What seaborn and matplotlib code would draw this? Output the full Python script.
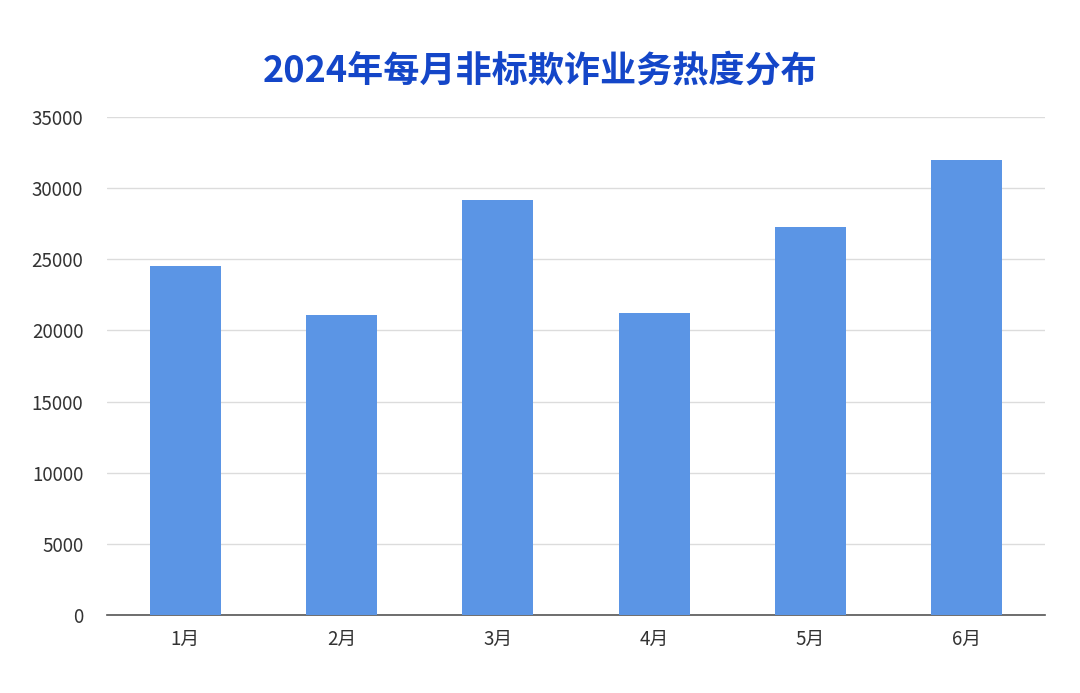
import matplotlib
matplotlib.use("Agg")
import matplotlib.pyplot as plt
import seaborn as sns
import pandas as pd

months = ["1月", "2月", "3月", "4月", "5月", "6月"]
values = [24500, 21100, 29150, 21200, 27300, 31950]
yticks = [0, 5000, 10000, 15000, 20000, 25000, 30000, 35000]

sns.set_theme(style="white")
plt.rcParams['font.family'] = ['Noto Sans CJK SC', 'DejaVu Sans']

fig = plt.figure(figsize=(10.8, 6.93), dpi=100)
ax = fig.add_axes([0.099, 0.1126, 0.8686, 0.7186])

df = pd.DataFrame({"month": months, "value": values})
sns.barplot(data=df, x="month", y="value", color="#5B95E5", width=0.455,
            saturation=1, linewidth=0, edgecolor="none", ax=ax, zorder=3)

ax.set_ylim(0, 35000)
ax.set_yticks(yticks)
ax.set_yticklabels([str(v) for v in yticks])
ax.grid(axis="y", color="#DCDCDC", linewidth=1, zorder=0)
ax.set_axisbelow(True)
for s in ["top", "right", "left"]:
    ax.spines[s].set_visible(False)
ax.spines["bottom"].set_color("#555555")
ax.spines["bottom"].set_linewidth(1.2)
ax.tick_params(axis="both", length=0, labelsize=13.5, colors="#333333")
ax.tick_params(axis="y", pad=17)
ax.tick_params(axis="x", pad=10)
ax.set_xlabel("")
ax.set_ylabel("")

fig.text(0.5, 0.897, "2024年每月非标欺诈业务热度分布", ha="center", va="center",
         fontsize=26, fontweight="bold", color="#1446C8")

fig.savefig("out.png", dpi=100)
